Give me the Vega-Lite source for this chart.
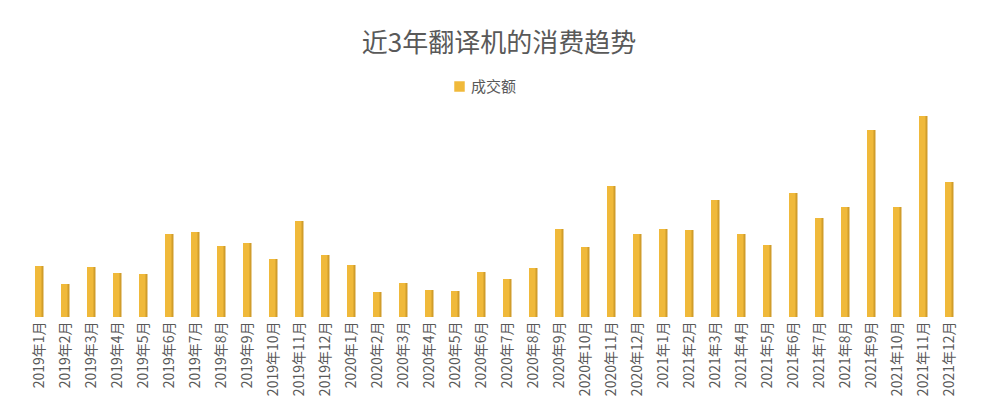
{
  "$schema": "https://vega.github.io/schema/vega-lite/v6.json",
  "width": 936,
  "height": 210,
  "autosize": {"type": "none"},
  "padding": {"left": 27, "top": 107, "right": 37, "bottom": 95},
  "background": "#ffffff",
  "title": {
    "text": "近3年翻译机的消费趋势",
    "anchor": "middle",
    "font": "Noto Sans CJK SC",
    "fontSize": 26,
    "fontWeight": "normal",
    "color": "#595959",
    "offset": 22,
    "dx": 4
  },
  "config": {
    "view": {"stroke": null},
    "font": "Noto Sans CJK SC"
  },
  "data": {
    "values": [
      {"month": "2019年1月", "value": 51},
      {"month": "2019年2月", "value": 33},
      {"month": "2019年3月", "value": 50},
      {"month": "2019年4月", "value": 44},
      {"month": "2019年5月", "value": 43},
      {"month": "2019年6月", "value": 83},
      {"month": "2019年7月", "value": 85},
      {"month": "2019年8月", "value": 71},
      {"month": "2019年9月", "value": 74},
      {"month": "2019年10月", "value": 58},
      {"month": "2019年11月", "value": 96},
      {"month": "2019年12月", "value": 62},
      {"month": "2020年1月", "value": 52},
      {"month": "2020年2月", "value": 25},
      {"month": "2020年3月", "value": 34},
      {"month": "2020年4月", "value": 27},
      {"month": "2020年5月", "value": 26},
      {"month": "2020年6月", "value": 45},
      {"month": "2020年7月", "value": 38},
      {"month": "2020年8月", "value": 49},
      {"month": "2020年9月", "value": 88},
      {"month": "2020年10月", "value": 70},
      {"month": "2020年11月", "value": 131},
      {"month": "2020年12月", "value": 83},
      {"month": "2021年1月", "value": 88},
      {"month": "2021年2月", "value": 87},
      {"month": "2021年3月", "value": 117},
      {"month": "2021年4月", "value": 83},
      {"month": "2021年5月", "value": 72},
      {"month": "2021年6月", "value": 124},
      {"month": "2021年7月", "value": 99},
      {"month": "2021年8月", "value": 110},
      {"month": "2021年9月", "value": 187},
      {"month": "2021年10月", "value": 110},
      {"month": "2021年11月", "value": 201},
      {"month": "2021年12月", "value": 135}
    ]
  },
  "encoding": {
    "x": {
      "field": "month",
      "type": "ordinal",
      "sort": null,
      "scale": {"paddingInner": 0, "paddingOuter": 0},
      "axis": {
        "title": null,
        "labelAngle": -90,
        "labelFontSize": 14,
        "labelColor": "#595959",
        "labelFont": "Noto Sans CJK SC",
        "labelPadding": 4,
        "ticks": false,
        "domain": false,
        "grid": false
      }
    },
    "y": {
      "field": "value",
      "type": "quantitative",
      "scale": {"domain": [0, 210]},
      "axis": null
    }
  },
  "layer": [
    {
      "mark": {"type": "bar", "width": 8, "xOffset": -1},
      "encoding": {
        "color": {
          "datum": "成交额",
          "scale": {"range": ["#F0B93A"]},
          "legend": {
            "title": null,
            "orient": "none",
            "legendX": 425,
            "legendY": -28,
            "symbolType": "square",
            "symbolSize": 110,
            "labelFontSize": 15,
            "labelColor": "#595959",
            "labelFont": "Noto Sans CJK SC"
          }
        }
      }
    },
    {
      "mark": {"type": "bar", "width": 2, "xOffset": 2.5, "color": "#D19D2B"},
      "encoding": {}
    }
  ]
}
